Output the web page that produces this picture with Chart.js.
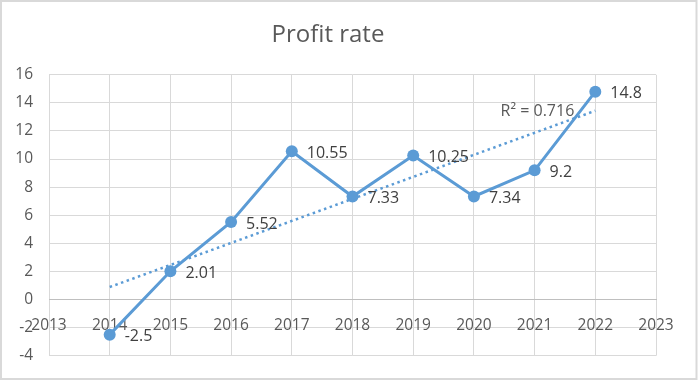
<!DOCTYPE html>
<html>
<head>
<meta charset="utf-8">
<script src="https://cdn.jsdelivr.net/npm/chart.js@4.4.1/dist/chart.umd.min.js"></script>
<style>
  html, body { margin: 0; padding: 0; background: #ffffff; }
  #wrap { position: relative; width: 698px; height: 381px; }
</style>
</head>
<body>
<div id="wrap"><canvas id="profitChart" width="698" height="381"></canvas></div>
<script>
// values
const years = [2014, 2015, 2016, 2017, 2018, 2019, 2020, 2021, 2022];
const profitRate = [-2.5, 2.01, 5.52, 10.55, 7.33, 10.25, 7.34, 9.2, 14.8];
const profitLabels = ["-2.5", "2.01", "5.52", "10.55", "7.33", "10.25", "7.34", "9.2", "14.8"];

// linear trend line ends as drawn in the picture
const trendYears = [2014, 2022];
const trendValues = [0.89, 13.44];
const trendLabel = "R² = 0.716";

const yTicks = [-4, -2, 0, 2, 4, 6, 8, 10, 12, 14, 16];
const xTicks = [2013, 2014, 2015, 2016, 2017, 2018, 2019, 2020, 2021, 2022, 2023];

const FONT = "'Open Sans', 'Liberation Sans', sans-serif";
const BLUE = "#5b9bd5";
const TEXT = "#595959";

// frame around the whole chart, like the Excel chart area
const framePlugin = {
  id: "frame",
  beforeDraw(chart) {
    const ctx = chart.ctx;
    ctx.save();
    ctx.fillStyle = "#ffffff";
    ctx.fillRect(0, 0, chart.width, chart.height);
    ctx.strokeStyle = "#d9d9d9";
    ctx.lineWidth = 2;
    ctx.strokeRect(1, 1, 695.5, 378);
    ctx.restore();
  }
};

// data labels to the right of each point + R² text
const labelPlugin = {
  id: "pointLabels",
  afterDatasetsDraw(chart) {
    const ctx = chart.ctx;
    const xs = chart.scales.x;
    const ys = chart.scales.y;

    ctx.save();
    ctx.font = "16px " + FONT;
    ctx.fillStyle = "#404040";
    ctx.textAlign = "left";
    ctx.textBaseline = "middle";

    years.forEach((year, i) => {
      const px = xs.getPixelForValue(year);
      const py = ys.getPixelForValue(profitRate[i]);
      ctx.fillText(profitLabels[i], px + 15, py + 2);
    });

    const ex = xs.getPixelForValue(trendYears[1]);
    const ey = ys.getPixelForValue(trendValues[1]);
    ctx.fillStyle = TEXT;
    ctx.textAlign = "right";
    ctx.fillText(trendLabel, ex - 21, ey + 1);
    ctx.restore();
  }
};

new Chart(document.getElementById("profitChart"), {
  type: "scatter",
  data: {
    datasets: [
      {
        label: "Profit rate",
        data: years.map((year, i) => ({ x: year, y: profitRate[i] })),
        showLine: true,
        borderColor: BLUE,
        backgroundColor: BLUE,
        borderWidth: 3,
        pointRadius: 6,
        pointBorderWidth: 0,
        pointBackgroundColor: BLUE,
        order: 1
      },
      {
        label: "Linear (Profit rate)",
        data: trendYears.map((year, i) => ({ x: year, y: trendValues[i] })),
        showLine: true,
        borderColor: BLUE,
        borderWidth: 2.5,
        borderDash: [2.5, 3.5],
        pointRadius: 0,
        order: 2
      }
    ]
  },
  options: {
    responsive: false,
    animation: false,
    events: [],
    layout: {
      padding: { top: 0, left: 0, right: 42, bottom: 24 }
    },
    plugins: {
      legend: { display: false },
      tooltip: { enabled: false },
      title: {
        display: true,
        text: "Profit rate",
        color: TEXT,
        font: { family: FONT, size: 24, weight: "normal" },
        padding: { top: 21, bottom: 25 }
      }
    },
    scales: {
      x: {
        type: "linear",
        position: { y: 0 },
        min: xTicks[0],
        max: xTicks[xTicks.length - 1],
        afterBuildTicks(scale) {
          scale.ticks = xTicks.map((v) => ({ value: v }));
        },
        ticks: {
          color: TEXT,
          font: { family: FONT, size: 15.5 },
          padding: 17,
          maxRotation: 0,
          autoSkip: false,
          callback: (v) => String(v)
        },
        grid: { color: "#d9d9d9", lineWidth: 1, drawTicks: false },
        border: { display: true, color: "#bfbfbf", width: 1 }
      },
      y: {
        min: yTicks[0],
        max: yTicks[yTicks.length - 1],
        afterBuildTicks(scale) {
          scale.ticks = yTicks.map((v) => ({ value: v }));
        },
        afterFit(scale) {
          scale.width = 49;
        },
        ticks: {
          color: TEXT,
          font: { family: FONT, size: 15.5 },
          padding: 16,
          autoSkip: false,
          callback: (v) => String(v)
        },
        grid: {
          drawTicks: false,
          color: (c) => (c.tick && c.tick.value === 0 ? "#bfbfbf" : "#d9d9d9"),
          lineWidth: 1
        },
        border: { display: false }
      }
    }
  },
  plugins: [framePlugin, labelPlugin]
});
</script>
</body>
</html>
